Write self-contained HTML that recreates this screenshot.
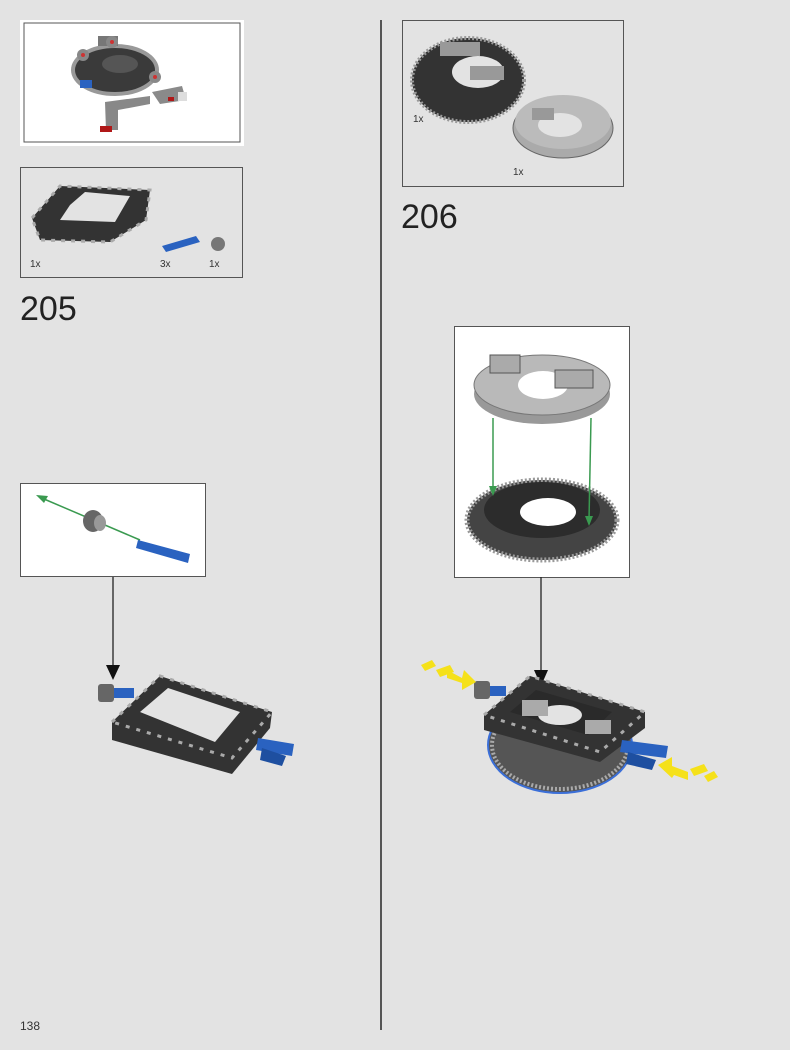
<!DOCTYPE html>
<html><head><meta charset="utf-8"><style>
html,body{margin:0;padding:0;background:#e3e3e3;}
body{width:790px;height:1050px;position:relative;overflow:hidden;font-family:"Liberation Sans",sans-serif;}
svg{position:absolute;left:0;top:0;}
</style></head><body>
<svg width="790" height="1050" viewBox="0 0 790 1050" xmlns="http://www.w3.org/2000/svg" font-family="Liberation Sans, sans-serif">
<rect width="790" height="1050" fill="#e3e3e3"/>
<!-- divider -->
<line x1="381" y1="20" x2="381" y2="1030" stroke="#555" stroke-width="2"/>

<!-- top-left preview -->
<rect x="20" y="20" width="224" height="126" fill="#fff"/>
<rect x="24" y="23" width="216" height="119" fill="#fff" stroke="#555" stroke-width="1"/>
<g>
<ellipse cx="115" cy="70" rx="42" ry="24" fill="#3a3a3a" stroke="#999" stroke-width="4"/>
<ellipse cx="120" cy="64" rx="18" ry="9" fill="#555"/>
<rect x="98" y="36" width="20" height="10" fill="#777"/>
<circle cx="112" cy="42" r="6" fill="#888"/><circle cx="112" cy="42" r="2" fill="#c33"/>
<circle cx="83" cy="55" r="6" fill="#888"/><circle cx="83" cy="55" r="2" fill="#c33"/>
<circle cx="155" cy="77" r="6" fill="#888"/><circle cx="155" cy="77" r="2" fill="#c33"/>
<rect x="80" y="80" width="12" height="8" fill="#2a62c0"/>
<polygon points="105,102 150,96 150,104 118,110 118,130 106,130" fill="#888"/>
<polygon points="152,92 182,86 186,100 160,104" fill="#8a8a8a"/>
<rect x="178" y="92" width="9" height="9" fill="#ddd"/>
<rect x="100" y="126" width="12" height="6" fill="#b01818"/>
<rect x="168" y="97" width="6" height="4" fill="#b01818"/>
</g>

<!-- parts box 205 -->
<rect x="20.5" y="167.5" width="222" height="110" fill="#e3e3e3" stroke="#555"/>
<polygon points="32,218 60,186 150,190 146,220 110,242 40,240" fill="#333"/>
<polygon points="70,205 85,192 130,196 115,222 60,220" fill="#e3e3e3"/>
<polygon points="32,218 60,186 150,190 146,220 110,242 40,240" fill="none" stroke="#aaa" stroke-width="3" stroke-dasharray="4 6"/>
<polygon points="162,246 196,236 200,242 166,252" fill="#2a62c0"/>
<ellipse cx="218" cy="244" rx="7" ry="7" fill="#777"/>
<text x="30" y="267" font-size="10" fill="#333">1x</text>
<text x="160" y="267" font-size="10" fill="#333">3x</text>
<text x="209" y="267" font-size="10" fill="#333">1x</text>
<text x="20" y="320" font-size="34" fill="#222">205</text>

<!-- sub box left -->
<rect x="20.5" y="483.5" width="185" height="93" fill="#fff" stroke="#555"/>
<line x1="140" y1="540" x2="44" y2="499" stroke="#3a9a50" stroke-width="1.5"/>
<polygon points="36,495 48,496 44,503" fill="#3a9a50"/>
<ellipse cx="93" cy="521" rx="10" ry="11" fill="#666"/>
<ellipse cx="100" cy="523" rx="6" ry="8" fill="#999"/>
<polygon points="138,540 190,554 188,563 136,548" fill="#2a62c0"/>
<line x1="113" y1="577" x2="113" y2="670" stroke="#222" stroke-width="1.3"/>
<polygon points="106,665 120,665 113,680" fill="#111"/>

<!-- left assembly -->
<polygon points="112,722 160,676 272,712 270,728 232,774 112,740" fill="#333"/>
<polygon points="140,712 168,688 240,712 215,742" fill="#e3e3e3"/>
<polygon points="112,722 160,676 272,712 232,758" fill="none" stroke="#aaa" stroke-width="3" stroke-dasharray="4 7"/>
<rect x="98" y="684" width="16" height="18" rx="3" fill="#666"/>
<rect x="114" y="688" width="20" height="10" fill="#2a62c0"/>
<polygon points="258,738 294,744 292,756 256,750" fill="#2a62c0"/>
<polygon points="262,748 286,756 282,766 260,760" fill="#1e4fa0"/>

<!-- parts box 206 -->
<rect x="402.5" y="20.5" width="221" height="166" fill="#e3e3e3" stroke="#555"/>
<ellipse cx="468" cy="80" rx="56" ry="42" fill="#333" stroke="#999" stroke-width="4" stroke-dasharray="2 2"/>
<ellipse cx="478" cy="72" rx="26" ry="16" fill="#e3e3e3"/>
<rect x="440" y="42" width="40" height="14" fill="#999"/>
<rect x="470" y="66" width="34" height="14" fill="#999"/>
<ellipse cx="563" cy="128" rx="50" ry="30" fill="#aaa" stroke="#666"/>
<ellipse cx="563" cy="122" rx="48" ry="27" fill="#bbb"/>
<ellipse cx="560" cy="125" rx="22" ry="12" fill="#e3e3e3"/>
<rect x="532" y="108" width="22" height="12" fill="#999"/>
<text x="413" y="122" font-size="10" fill="#333">1x</text>
<text x="513" y="175" font-size="10" fill="#333">1x</text>
<text x="401" y="228" font-size="34" fill="#222">206</text>

<!-- sub box right -->
<rect x="454.5" y="326.5" width="175" height="251" fill="#fff" stroke="#555"/>
<ellipse cx="542" cy="394" rx="68" ry="30" fill="#999"/>
<ellipse cx="542" cy="385" rx="68" ry="30" fill="#b9b9b9" stroke="#777"/>
<ellipse cx="543" cy="385" rx="25" ry="14" fill="#fff"/>
<rect x="490" y="355" width="30" height="18" fill="#aaa" stroke="#555"/>
<rect x="555" y="370" width="38" height="18" fill="#aaa" stroke="#555"/>
<ellipse cx="542" cy="520" rx="75" ry="40" fill="#444" stroke="#999" stroke-width="5" stroke-dasharray="2 2"/>
<ellipse cx="542" cy="510" rx="58" ry="28" fill="#2c2c2c"/>
<ellipse cx="548" cy="512" rx="28" ry="14" fill="#fff"/>
<line x1="493" y1="418" x2="493" y2="490" stroke="#3a9a50" stroke-width="1.5"/>
<line x1="591" y1="418" x2="589" y2="520" stroke="#3a9a50" stroke-width="1.5"/>
<polygon points="489,486 497,486 493,496" fill="#3a9a50"/>
<polygon points="585,516 593,516 589,526" fill="#3a9a50"/>
<line x1="541" y1="577" x2="541" y2="672" stroke="#222" stroke-width="1.3"/>
<polygon points="534,670 548,670 541,686" fill="#111"/>

<!-- right assembly -->
<ellipse cx="560" cy="745" rx="72" ry="48" fill="#555" stroke="#3b6fd8" stroke-width="2"/>
<ellipse cx="560" cy="745" rx="68" ry="44" fill="none" stroke="#aaa" stroke-width="4" stroke-dasharray="2 2"/>
<polygon points="484,715 530,676 645,712 645,728 600,762 484,730" fill="#333"/>
<polygon points="510,712 536,690 612,712 588,735" fill="#2a2a2a"/>
<ellipse cx="560" cy="715" rx="22" ry="10" fill="#e3e3e3"/>
<polygon points="484,715 530,676 645,712 600,752" fill="none" stroke="#aaa" stroke-width="3" stroke-dasharray="4 7"/>
<rect x="522" y="700" width="26" height="16" fill="#aaa"/>
<rect x="585" y="720" width="26" height="14" fill="#aaa"/>
<rect x="474" y="681" width="16" height="18" rx="3" fill="#666"/>
<rect x="490" y="686" width="16" height="10" fill="#2a62c0"/>
<polygon points="622,740 668,746 666,758 620,752" fill="#2a62c0"/>
<polygon points="628,752 656,760 652,770 626,764" fill="#1e4fa0"/>
<!-- yellow arrows -->
<g fill="#f5e11a">
<polygon points="421,665 432,660 436,666 425,671"/>
<polygon points="436,670 450,665 454,672 440,677"/>
<polygon points="447,670 462,678 464,670 476,682 462,690 462,683 447,678"/>
<polygon points="690,769 704,764 708,771 694,776"/>
<polygon points="704,776 714,771 718,777 708,782"/>
<polygon points="688,772 672,766 672,757 658,765 672,778 674,775 688,780"/>
</g>

<text x="20" y="1030" font-size="12" fill="#333">138</text>
</svg>
</body></html>
